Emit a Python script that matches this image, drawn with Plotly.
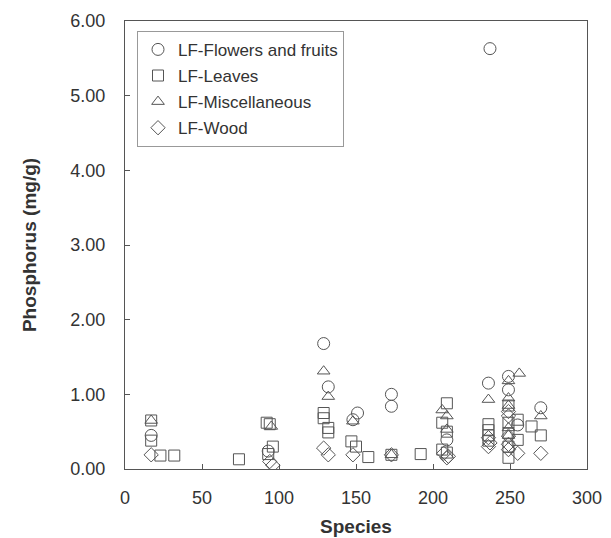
import plotly.graph_objects as go

# LF-Flowers and fruits (circles)
flowers_x = [17, 93, 129, 132, 148, 151, 173, 173, 209, 236, 237, 249, 249, 255, 270]
flowers_y = [0.45, 0.24, 1.68, 1.10, 0.66, 0.75, 1.00, 0.84, 0.39, 1.15, 5.63, 1.24, 1.06, 0.59, 0.82]

# LF-Leaves (squares)
leaves_x = [17, 17, 23, 32, 74, 92, 94, 96, 93, 129, 129, 132, 132, 147, 150, 158, 173, 192,
            206, 209, 209, 206, 209, 236, 236, 236, 236, 249, 249, 249, 249, 249, 255, 255, 264, 270]
leaves_y = [0.65, 0.38, 0.18, 0.18, 0.13, 0.62, 0.60, 0.30, 0.20, 0.75, 0.68, 0.55, 0.49, 0.37, 0.30, 0.16, 0.19, 0.20,
            0.62, 0.88, 0.50, 0.26, 0.22, 0.60, 0.52, 0.45, 0.38, 0.85, 0.62, 0.48, 0.30, 0.15, 0.66, 0.39, 0.57, 0.45]

# LF-Miscellaneous (triangles)
misc_x = [17, 95, 129, 132, 148, 173, 206, 209, 209, 236, 249, 249, 249, 249, 249, 256, 270]
misc_y = [0.65, 0.57, 1.31, 0.97, 0.64, 0.19, 0.79, 0.71, 0.53, 0.93, 1.18, 0.95, 0.85, 0.55, 0.45, 1.28, 0.71]

# LF-Wood (diamonds)
wood_x = [17, 94, 96, 129, 132, 148, 173, 207, 209, 210, 236, 236, 237, 249, 249, 249, 249, 249, 255, 270]
wood_y = [0.19, 0.10, 0.05, 0.28, 0.19, 0.19, 0.19, 0.21, 0.15, 0.17, 0.42, 0.30, 0.35, 0.77, 0.71, 0.44, 0.33, 0.26, 0.21, 0.21]

x_ticks = [0, 50, 100, 150, 200, 250, 300]
y_ticks = [0, 1, 2, 3, 4, 5, 6]

EDGE = "#555555"
TXT = "#333333"
FONT = "Arial, Liberation Sans, sans-serif"

series = [
    ("LF-Flowers and fruits", flowers_x, flowers_y, "circle-open", 12),
    ("LF-Leaves", leaves_x, leaves_y, "square-open", 11),
    ("LF-Miscellaneous", misc_x, misc_y, "triangle-up-open", 11),
    ("LF-Wood", wood_x, wood_y, "diamond-open", 11),
]

fig = go.Figure()
for i, (name, xs, ys, sym, sz) in enumerate(series):
    fig.add_trace(go.Scatter(
        x=xs, y=ys, mode="markers", name=name,
        legendgroup=f"g{i}",
        marker=dict(symbol=sym, size=sz, color=EDGE, line=dict(width=1, color=EDGE)),
    ))

axis_common = dict(
    showline=True, linecolor=EDGE, linewidth=1, mirror=True,
    showgrid=False, zeroline=False, automargin=False,
    ticks="inside", ticklen=5, tickcolor=EDGE,
    tickfont=dict(family=FONT, size=18, color=TXT),
)

fig.update_xaxes(range=[0, 300], tickvals=x_ticks,
                 title=dict(text="Species", font=dict(family=FONT, size=19, color=TXT, weight="bold"), standoff=13),
                 ticklabelstandoff=12,
                 **axis_common)
fig.update_yaxes(range=[0, 6], tickvals=y_ticks, tickformat=".2f",
                 title=dict(text="Phosphorus (mg/g)", font=dict(family=FONT, size=19, color=TXT, weight="bold"), standoff=28),
                 ticklabelstandoff=15,
                 **axis_common)

fig.update_layout(
    width=611, height=538,
    margin=dict(l=117, r=32, t=13, b=77),
    paper_bgcolor="white", plot_bgcolor="white",
    font=dict(family=FONT, color=TXT),
    legend=dict(
        x=0.026, y=0.978, xanchor="left", yanchor="top",
        bordercolor="#999999", borderwidth=1, bgcolor="white",
        font=dict(family=FONT, size=17, color=TXT),
        traceorder="grouped", tracegroupgap=1,
        itemwidth=30,
    ),
)

fig.write_html("out.html")
